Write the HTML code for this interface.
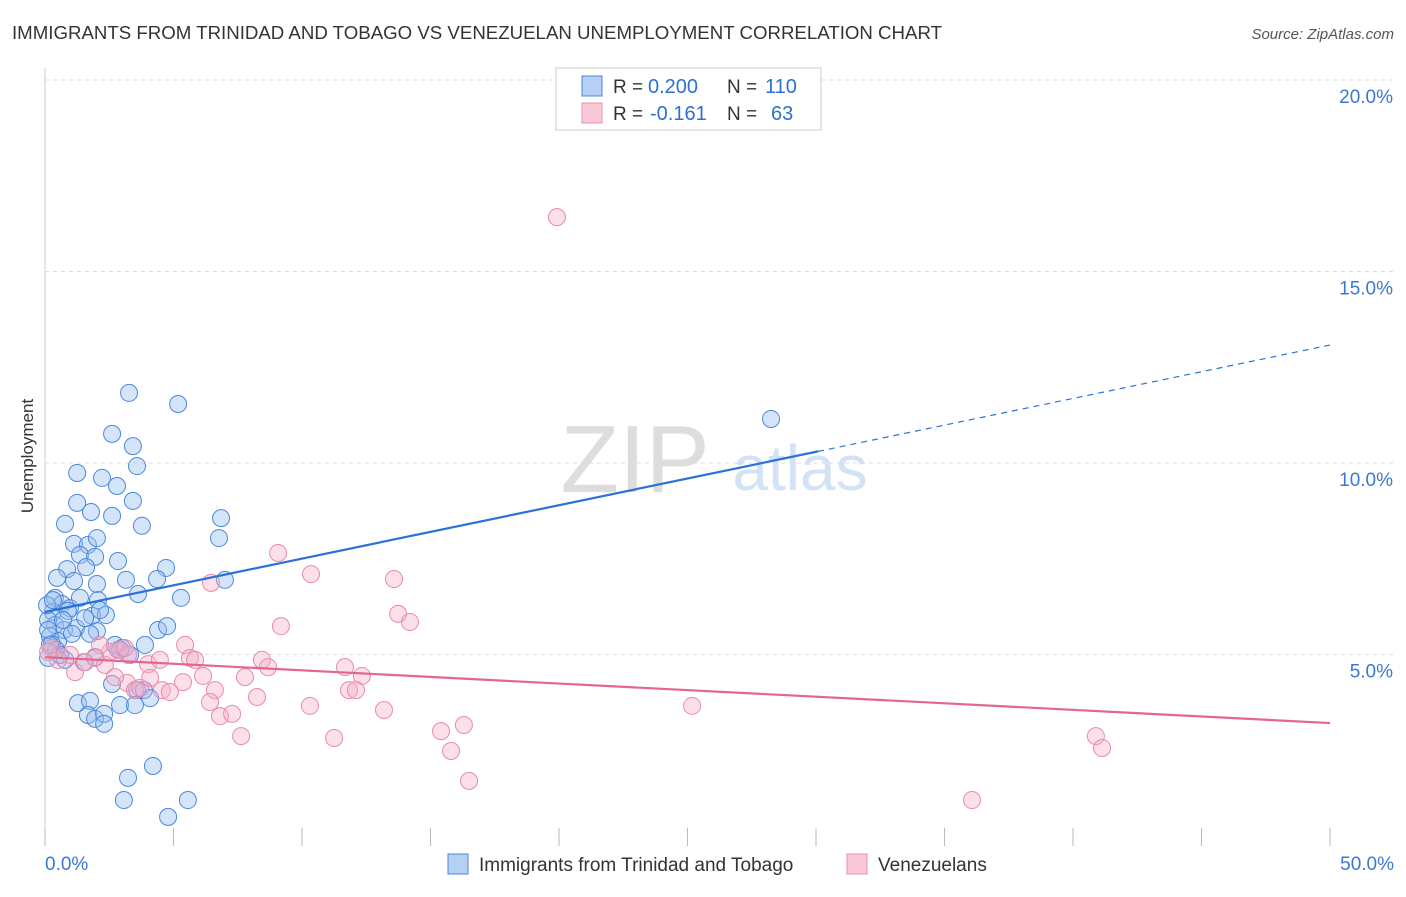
<!DOCTYPE html>
<html><head><meta charset="utf-8"><style>
body{margin:0;background:#fff;font-family:"Liberation Sans",sans-serif}
svg text{font-family:"Liberation Sans",sans-serif}
</style></head><body>
<svg id="chart" width="1406" height="892" viewBox="0 0 1406 892">
<text x="12" y="39" font-size="18" fill="#333" textLength="930" lengthAdjust="spacingAndGlyphs">IMMIGRANTS FROM TRINIDAD AND TOBAGO VS VENEZUELAN UNEMPLOYMENT CORRELATION CHART</text>
<text x="1394" y="39" font-size="15" fill="#555" text-anchor="end" font-style="italic">Source: ZipAtlas.com</text>
<text transform="translate(33,456) rotate(-90)" font-size="17" fill="#333" text-anchor="middle">Unemployment</text>
<g><text x="635" y="492" font-size="96" fill="#ddd" text-anchor="middle" font-family="Liberation Serif">ZIP</text><text x="800" y="490" font-size="64" fill="#d3e2f5" text-anchor="middle">atlas</text></g>
<g id="grid"></g><g id="marks"></g>
<g>
<rect x="556" y="68" width="265" height="62" fill="#fff" stroke="#ccc"/>
<rect x="582" y="76" width="20" height="20" fill="#b6d0f4" stroke="#4a86d8"/>
<rect x="582" y="103" width="20" height="20" fill="#f9c9d8" stroke="#e890ac"/>
<text x="613" y="93" font-size="19" fill="#333">R =</text>
<text x="648" y="93" font-size="20" fill="#2e6fd0">0.200</text>
<text x="727" y="93" font-size="19" fill="#333">N =</text>
<text x="765" y="93" font-size="20" fill="#2e6fd0">110</text>
<text x="613" y="120" font-size="19" fill="#333">R =</text>
<text x="650" y="120" font-size="20" fill="#2e6fd0">-0.161</text>
<text x="727" y="120" font-size="19" fill="#333">N =</text>
<text x="771" y="120" font-size="20" fill="#2e6fd0">63</text>
</g>
<g>
<rect x="448" y="854" width="20" height="20" fill="#b6d0f4" stroke="#4a86d8"/>
<text x="479" y="871" font-size="19" fill="#333">Immigrants from Trinidad and Tobago</text>
<rect x="847" y="854" width="20" height="20" fill="#f9c9d8" stroke="#e890ac"/>
<text x="878" y="871" font-size="19" fill="#333">Venezuelans</text>
</g>
</svg>
<script>
const blueX=[3.27,5.18,2.61,3.42,3.58,1.25,2.22,2.80,1.25,3.42,1.79,2.61,0.78,3.77,6.85,6.77,1.13,1.67,2.02,2.84,1.36,1.95,0.86,4.71,1.60,3.15,4.36,7.00,0.47,1.13,2.02,3.62,5.29,0.39,0.66,0.97,1.36,2.06,0.31,0.89,1.83,2.37,0.39,0.74,1.21,2.02,0.12,0.19,0.51,4.40,4.75,2.72,3.00,3.89,1.75,1.05,0.12,1.95,0.78,1.52,0.27,2.61,3.58,3.85,4.09,2.92,3.50,1.28,1.75,1.67,1.95,2.30,2.30,3.23,4.20,3.07,5.56,4.79,28.25,0.43,0.58,0.12,0.19,0.70,1.56,2.14,2.92,3.31,0.08,0.31];
const blueY=[11.83,11.54,10.76,10.44,9.92,9.74,9.61,9.40,8.96,9.01,8.72,8.62,8.41,8.36,8.56,8.04,7.89,7.86,8.04,7.44,7.60,7.55,7.23,7.26,7.28,6.95,6.97,6.95,7.00,6.92,6.84,6.58,6.48,6.48,6.32,6.21,6.48,6.42,6.11,6.14,6.01,6.03,5.77,5.64,5.69,5.61,5.90,5.48,5.35,5.64,5.74,5.25,5.17,5.25,5.54,5.54,4.91,4.93,4.86,4.80,5.27,4.23,4.07,4.07,3.86,3.68,3.68,3.73,3.79,3.42,3.32,3.45,3.19,1.78,2.09,1.20,1.20,0.76,11.15,5.12,4.99,5.64,5.25,5.90,5.95,6.16,5.12,4.99,6.29,6.42];
const pinkX=[19.92,9.07,10.35,13.58,6.46,13.74,14.20,9.18,0.27,0.97,0.51,1.17,1.56,1.95,2.33,2.53,2.84,3.23,4.01,4.47,5.45,5.64,5.84,4.55,5.37,6.15,6.61,7.78,8.44,8.68,11.67,12.33,11.83,12.10,8.25,6.42,6.81,7.28,7.63,10.31,11.25,13.19,15.41,15.80,16.30,16.50,25.18,40.89,41.13,36.07,3.19,3.50,3.70,4.09,2.72,2.14,0.12,3.11,4.86];
const pinkY=[16.42,7.65,7.10,6.97,6.87,6.06,5.85,5.74,5.17,4.99,4.86,4.54,4.80,4.91,4.73,5.07,5.12,4.99,4.75,4.86,5.25,4.91,4.86,4.07,4.28,4.44,4.07,4.41,4.86,4.67,4.67,4.44,4.07,4.07,3.89,3.76,3.39,3.45,2.87,3.66,2.82,3.55,3.00,2.48,3.16,1.70,3.66,2.87,2.56,1.20,4.26,4.07,4.13,4.39,4.41,5.25,5.07,5.17,4.02];
const blueTrend=[6.11,13.08]; const blueSolidEnd=30.08;
const pinkTrend=[4.93,3.21];
const yTicks=[5,10,15,20]; const yTickLabels=["5.0%","10.0%","15.0%","20.0%"];
const xTicks=[0,5,10,15,20,25,30,35,40,45,50];
const NS="http://www.w3.org/2000/svg";
const X=v=>45+v*25.7, Y=v=>846-v*38.3;
function mk(p,t,a){const e=document.createElementNS(NS,t);for(const k in a)e.setAttribute(k,a[k]);p.appendChild(e);return e;}
const grid=document.getElementById('grid'),marks=document.getElementById('marks');
const ax=mk(grid,'line',{x1:45,y1:68,x2:45,y2:846,stroke:'#ccc'});


yTicks.forEach((t,i)=>{
 const g=mk(grid,'line',{x1:45,x2:1394,y1:Y(t),y2:Y(t),stroke:'#ddd','stroke-dasharray':'4,4'});
 
 
 const l=mk(grid,'text',{x:1393,y:Y(t)+23,'font-size':19,fill:'#3a78d4','text-anchor':'end'});l.textContent=yTickLabels[i];
 
 
});
xTicks.forEach(t=>{
 const k=mk(grid,'line',{x1:X(t),x2:X(t),y1:828,y2:846,stroke:'#bbb'});
 
 
});
[[0,"0.0%",'start',45],[50,"50.0%",'end',1394]].forEach(([v,s,a,px])=>{
 const l=mk(grid,'text',{x:px,y:870,'font-size':19,fill:'#3a78d4','text-anchor':a});l.textContent=s;
 
 
});
blueX.forEach((x,i)=>{
 const c=mk(marks,'circle',{cx:X(x),cy:Y(blueY[i]),r:8.5,fill:'rgba(150,190,240,0.4)',stroke:'#4a88dc','stroke-width':1});
 
 
});
pinkX.forEach((x,i)=>{
 const c=mk(marks,'circle',{cx:X(x),cy:Y(pinkY[i]),r:8.5,fill:'rgba(245,175,200,0.4)',stroke:'#ea8aab','stroke-width':1});
 
 
});
const bAt=x=>blueTrend[0]+(blueTrend[1]-blueTrend[0])*x/50;
const b1=mk(marks,'line',{x1:X(0),y1:Y(bAt(0)),x2:X(blueSolidEnd),y2:Y(bAt(blueSolidEnd)),stroke:'#2a72d8','stroke-width':2.2});


const b2=mk(marks,'line',{x1:X(blueSolidEnd),y1:Y(bAt(blueSolidEnd)),x2:X(50),y2:Y(bAt(50)),stroke:'#2a72d8','stroke-width':1.2,'stroke-dasharray':'6,5'});


const p1=mk(marks,'line',{x1:X(0),y1:Y(pinkTrend[0]),x2:X(50),y2:Y(pinkTrend[1]),stroke:'#e3668f','stroke-width':2.2});


</script>
</body></html>
